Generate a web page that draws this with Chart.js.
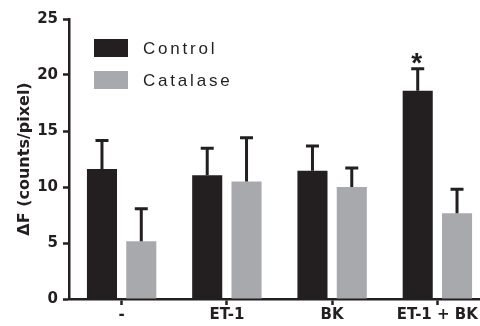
<!DOCTYPE html>
<html>
<head>
<meta charset="utf-8">
<script src="https://cdn.jsdelivr.net/npm/chart.js@4"></script>
<style>
  html, body { margin: 0; padding: 0; background: #fff; overflow: hidden; }
  #wrap { width: 490px; height: 326px; }
</style>
</head>
<body>
<div id="wrap"><canvas id="myChart"></canvas></div>
<script>
const categories = ['-', 'ET-1', 'BK', 'ET-1 + BK'];
const seriesNames = ['Control', 'Catalase'];
const controlMean = [11.6, 11.05, 11.45, 18.6];
const controlErr = [2.55, 2.4, 2.2, 1.95];
const catalaseMean = [5.15, 10.5, 10.0, 7.65];
const catalaseErr = [2.9, 3.9, 1.7, 2.15];
const controlMarks = ['', '', '', '*'];
const yTicks = [0, 5, 10, 15, 20, 25];

const ink = '#231f20';
const grey = '#a7a9ac';

const ctx = document.getElementById('myChart');

// upper error bars + significance mark
const errorBars = {
  id: 'errorBars',
  afterDatasetsDraw(chart) {
    const c = chart.ctx;
    const y = chart.scales.y;
    c.save();
    c.strokeStyle = ink;
    c.lineWidth = 3;
    chart.data.datasets.forEach((ds, i) => {
      const meta = chart.getDatasetMeta(i);
      meta.data.forEach((bar, j) => {
        const top = y.getPixelForValue(ds.data[j]);
        const cap = y.getPixelForValue(ds.data[j] + ds.err[j]);
        c.beginPath();
        c.moveTo(bar.x, top);
        c.lineTo(bar.x, cap);
        c.moveTo(bar.x - 6.5, cap);
        c.lineTo(bar.x + 6.5, cap);
        c.stroke();
        if (ds.marks && ds.marks[j]) {
          c.fillStyle = ink;
          c.font = 'bold 28px "Liberation Sans"';
          c.textAlign = 'center';
          c.textBaseline = 'alphabetic';
          c.fillText(ds.marks[j], bar.x - 1, cap + 3);
        }
      });
    });
    c.restore();
  }
};

// legend drawn inside the plot, letter-spaced like the original
const boxLegend = {
  id: 'boxLegend',
  afterDraw(chart) {
    const c = chart.ctx;
    c.save();
    chart.data.datasets.forEach((ds, i) => {
      const top = 39 + i * 32;
      c.fillStyle = ds.backgroundColor;
      c.fillRect(94, top, 34, 18);
      c.fillStyle = ink;
      c.font = '17px "Liberation Sans"';
      c.letterSpacing = '2.8px';
      c.textAlign = 'left';
      c.textBaseline = 'middle';
      c.fillText(ds.label, 143, top + 10);
    });
    c.restore();
  }
};

const config = {
  type: 'bar',
  data: {
    labels: categories,
    datasets: [{
      label: seriesNames[0],
      data: controlMean,
      err: controlErr,
      marks: controlMarks,
      backgroundColor: ink,
      categoryPercentage: 0.747,
      barPercentage: 0.765
    }, {
      label: seriesNames[1],
      data: catalaseMean,
      err: catalaseErr,
      backgroundColor: grey,
      categoryPercentage: 0.747,
      barPercentage: 0.765
    }]
  },
  options: {
    responsive: true,
    maintainAspectRatio: false,
    animation: false,
    layout: { padding: { top: 19, left: 0, right: 0, bottom: 0 } },
    plugins: {
      legend: { display: false },
      tooltip: { enabled: false }
    },
    scales: {
      x: {
        grid: {
          offset: false,
          drawOnChartArea: false,
          drawTicks: true,
          tickLength: 6,
          tickWidth: 2.5,
          tickColor: ink
        },
        border: { color: ink, width: 2.5 },
        ticks: {
          color: ink,
          padding: 1,
          font: { family: 'DejaVu Sans', size: 15, weight: 'bold' }
        },
        afterFit(scale) { scale.height = 27; }
      },
      y: {
        min: 0,
        max: 25,
        afterBuildTicks(scale) { scale.ticks = yTicks.map(v => ({ value: v })); },
        grid: {
          drawOnChartArea: false,
          drawTicks: true,
          tickLength: 6,
          tickWidth: 2.5,
          tickColor: ink
        },
        border: { color: ink, width: 2.5 },
        ticks: {
          color: ink,
          padding: 5,
          font: { family: 'DejaVu Sans', size: 15, weight: 'bold' }
        },
        title: {
          display: true,
          text: '\u0394F (counts/pixel)',
          color: ink,
          padding: { top: 15 },
          font: { family: 'DejaVu Sans', size: 16, weight: 'bold' }
        },
        afterFit(scale) { scale.width = 69; }
      }
    }
  },
  plugins: [errorBars, boxLegend]
};

new Chart(ctx, config);
</script>
</body>
</html>
